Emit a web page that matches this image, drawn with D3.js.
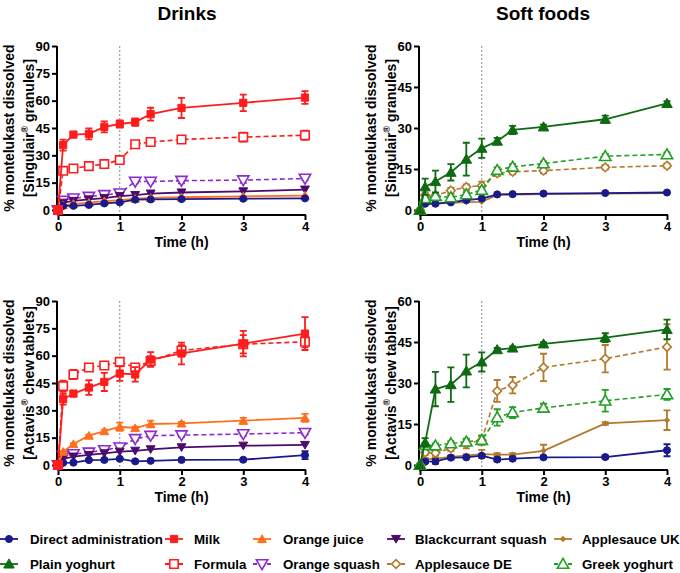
<!DOCTYPE html>
<html><head><meta charset="utf-8">
<script src="https://cdn.jsdelivr.net/npm/d3@7"></script>
<style>
html,body{margin:0;padding:0;background:#fff;}
svg text{font-family:"Liberation Sans",Arial,sans-serif;font-weight:bold;fill:#000;}
</style></head>
<body><svg id="c" width="680" height="573"></svg>
<script>
// ---- data ----
const times = [0, 0.083, 0.25, 0.5, 0.75, 1, 1.25, 1.5, 2, 3, 4];
const xTicks = [0, 1, 2, 3, 4];
const yTicksDrinks = [0, 15, 30, 45, 60, 75, 90];
const yTicksFoods = [0, 15, 30, 45, 60];
const panelTitles = ["Drinks", "Soft foods"];
const formulations = ["Singulair", "Actavis"];
const formulationSuffix = ["granules", "chew tablets"];

// Singulair granules - drinks
const gDirect      = [0, 2.3, 2.3, 2.8, 3.6, 4.2, 5.7, 5.8, 6.0, 6.2, 6.4];
const gMilk        = [0, 35.6, 41.4, 41.8, 45.6, 47.2, 48.2, 52.6, 56.0, 58.8, 61.7];
const gMilkErr     = [0, 3, 1.5, 3, 3, 2, 2, 3.5, 5.5, 4.5, 3.5];
const gFormula     = [0, 21.5, 22.8, 24.1, 25.2, 27.4, 36.1, 37.3, 38.7, 40.0, 41.0];
const gFormulaErr  = [0, 1.5, 1.5, 1, 1, 2, 1, 1, 2, 2.5, 2.5];
const gOrangeJuice = [0, 2.6, 3.4, 4.0, 4.8, 5.4, 6.2, 6.6, 7.0, 7.5, 7.9];
const gBlackcurrant= [0, 4.0, 5.0, 5.8, 6.5, 7.6, 8.2, 9.0, 9.6, 10.2, 11.2];
const gOrangeSquash= [0, 5.2, 6.4, 7.3, 8.3, 9.2, 15.6, 15.6, 16.1, 16.4, 17.3];
const gOrangeSquashErr = [0, 0.5, 0.5, 0.5, 0.5, 1, 1, 1, 1.5, 1.5, 1];
// Singulair granules - soft foods
const gApplesauceUK= [0, 2.0, 2.3, 2.6, 2.9, 3.0, 5.5, 5.6, 5.8, 6.0, 6.2];
const gApplesauceDE= [0, 5.4, 5.2, 7.1, 8.4, 8.9, 13.4, 14.0, 14.4, 15.6, 16.2];
const gApplesauceDEErr = [0, 1, 1, 1, 1, 1.5, 1, 1, 1, 0.8, 0.8];
const gPlainYog    = [0, 8.5, 10.4, 13.8, 18.6, 22.6, 25.2, 29.3, 30.4, 33.2, 39.0];
const gPlainYogErr = [0, 3, 4, 3, 6, 3.5, 1.2, 1.5, 0.8, 1.3, 0.8];
const gGreekYog    = [0, 4.3, 5.1, 4.6, 5.7, 7.3, 14.6, 15.8, 17.0, 19.7, 20.3];
const gGreekYogErr = [0, 0.8, 0.8, 0.8, 0.8, 1, 1, 1, 0.8, 0.8, 0.8];

// Actavis chew tablets - drinks
const aDirect      = [0, 1.2, 1.3, 2.7, 2.8, 3.4, 2.0, 2.3, 2.8, 2.9, 5.4];
const aDirectErr   = [0, 0.5, 0.8, 0.5, 0.5, 0.5, 0.5, 0.5, 0.5, 0.5, 2.2];
const aMilk        = [0, 36.1, 39.2, 42.5, 45.6, 50.2, 49.7, 57.9, 61.2, 66.6, 72.1];
const aMilkErr     = [0, 3, 1.5, 4, 5, 4, 4, 4, 6, 7, 9];
const aFormula     = [0, 43.3, 49.7, 53.5, 54.6, 56.6, 53.5, 57.1, 62.8, 66.3, 67.6];
const aFormulaErr  = [0, 3, 2.5, 1.5, 1.5, 2, 2, 2, 3, 5, 3];
const aOrangeJuice = [0, 7.3, 11.5, 16.1, 18.6, 21.0, 20.3, 22.5, 22.8, 24.3, 25.9];
const aOrangeJuiceErr = [0, 0.5, 0.5, 0.5, 0.8, 2.2, 0.8, 1.8, 0.8, 1.6, 2.2];
const aBlackcurrant= [0, 3.3, 4.6, 5.5, 6.4, 7.3, 7.8, 8.6, 9.7, 10.6, 11.0];
const aOrangeSquash= [0, 5.1, 6.0, 6.9, 8.2, 9.7, 14.3, 16.1, 16.4, 17.0, 17.7];
const aOrangeSquashErr = [0, 0.5, 0.5, 0.5, 0.5, 0.8, 1, 1, 1, 1, 1];
// Actavis chew tablets - soft foods
const aApplesauceUK= [0, 2.1, 2.3, 3.0, 3.4, 4.0, 3.8, 3.8, 5.2, 15.2, 16.4];
const aApplesauceUKErr = [0, 0.5, 0.5, 0.5, 0.5, 1.5, 0.5, 0.5, 2.2, 0.5, 3.6];
const aApplesauceDE= [0, 4.6, 4.4, 6.1, 7.7, 9.1, 27.1, 29.2, 35.7, 38.9, 43.2];
const aApplesauceDEErr = [0, 1, 1, 1, 1.6, 1.6, 4, 3, 5, 5, 8.3];
const aPlainYog    = [0, 8.2, 27.8, 29.4, 34.4, 37.7, 42.2, 42.8, 44.3, 46.6, 49.6];
const aPlainYogErr = [0, 1.6, 6.3, 6.3, 6, 3.5, 0.6, 0.6, 0.6, 1.6, 3.6];
const aGreekYog    = [0, 7.3, 7.1, 7.9, 8.5, 9.1, 17.4, 19.2, 20.9, 23.5, 25.8];
const aGreekYogErr = [0, 0.8, 0.8, 0.8, 1.1, 1.6, 3, 2, 1.5, 4, 2];

const legendNames = ["Direct administration", "Milk", "Orange juice", "Blackcurrant squash", "Applesauce UK",
                     "Plain yoghurt", "Formula", "Orange squash", "Applesauce DE", "Greek yoghurt"];

// ---- styles ----
const styles = {
  "Direct administration": {color:"#1a1a8a", shape:"circle", fill:true, dash:false, size:40},
  "Milk":                  {color:"#ff1c1c", shape:"square", fill:true, dash:false, size:52},
  "Formula":               {color:"#ff1c1c", shape:"square", fill:false, dash:true, size:72},
  "Orange juice":          {color:"#ff6f1f", shape:"triUp", fill:true, dash:false, size:34},
  "Blackcurrant squash":   {color:"#4b0c6c", shape:"triDown", fill:true, dash:false, size:34},
  "Orange squash":         {color:"#8c2bd0", shape:"triDown", fill:false, dash:true, size:56},
  "Applesauce UK":         {color:"#b27a2c", shape:"diamond", fill:true, dash:false, size:18},
  "Applesauce DE":         {color:"#b27a2c", shape:"diamond", fill:false, dash:true, size:48},
  "Plain yoghurt":         {color:"#0f6b12", shape:"triUp", fill:true, dash:false, size:48},
  "Greek yoghurt":         {color:"#22a024", shape:"triUp", fill:false, dash:true, size:56}
};

const panels = [
  {col:0,row:0,yMax:90,yTicks:yTicksDrinks,f:0,series:[
    ["Orange squash",gOrangeSquash,gOrangeSquashErr],["Blackcurrant squash",gBlackcurrant,null],
    ["Orange juice",gOrangeJuice,null],["Direct administration",gDirect,null],
    ["Formula",gFormula,gFormulaErr],["Milk",gMilk,gMilkErr]]},
  {col:1,row:0,yMax:60,yTicks:yTicksFoods,f:0,series:[
    ["Applesauce UK",gApplesauceUK,null],["Direct administration",gDirect,null],
    ["Applesauce DE",gApplesauceDE,gApplesauceDEErr],["Greek yoghurt",gGreekYog,gGreekYogErr],
    ["Plain yoghurt",gPlainYog,gPlainYogErr]]},
  {col:0,row:1,yMax:90,yTicks:yTicksDrinks,f:1,series:[
    ["Orange squash",aOrangeSquash,aOrangeSquashErr],["Blackcurrant squash",aBlackcurrant,null],
    ["Orange juice",aOrangeJuice,aOrangeJuiceErr],["Direct administration",aDirect,aDirectErr],
    ["Formula",aFormula,aFormulaErr],["Milk",aMilk,aMilkErr]]},
  {col:1,row:1,yMax:60,yTicks:yTicksFoods,f:1,series:[
    ["Applesauce UK",aApplesauceUK,aApplesauceUKErr],["Direct administration",aDirect,aDirectErr],
    ["Applesauce DE",aApplesauceDE,aApplesauceDEErr],["Greek yoghurt",aGreekYog,aGreekYogErr],
    ["Plain yoghurt",aPlainYog,aPlainYogErr]]}
];

// ---- layout ----
const colX = [[58,305],[420,667]];
const rowY = [[210,46],[465,301]];
const axisOffset = 5;
const FONT = '"Liberation Sans",Arial,sans-serif';

const svg = d3.select("#c");

function symbolPath(st){
  let type = d3.symbolCircle;
  if(st.shape==="square") type=d3.symbolSquare;
  if(st.shape==="triUp"||st.shape==="triDown") type=d3.symbolTriangle;
  if(st.shape==="diamond") type=d3.symbolDiamond2 || d3.symbolSquare;
  return d3.symbol().type(type).size(st.size)();
}
function drawMarker(g, x, y, st){
  const rot = st.shape==="triDown" ? 180 : (st.shape==="diamond" && !d3.symbolDiamond2 ? 45 : 0);
  const dy = st.shape==="triUp" ? 1 : (st.shape==="triDown" ? -1 : 0);
  g.append("path").attr("d", symbolPath(st))
    .attr("transform", `translate(${x},${y+dy}) rotate(${rot})`)
    .attr("fill", st.fill ? st.color : "#fff")
    .attr("stroke", st.color).attr("stroke-width", st.fill ? 1 : 1.6);
}

panels.forEach(p=>{
  const [x0,x1] = colX[p.col];
  const [y0,y1] = rowY[p.row];
  const x = d3.scaleLinear().domain([0,4]).range([x0,x1]);
  const y = d3.scaleLinear().domain([0,p.yMax]).range([y0,y1]);
  const g = svg.append("g");

  // dotted reference line at 1 h
  g.append("line").attr("x1",x(1)).attr("x2",x(1)).attr("y1",y1).attr("y2",y0+axisOffset)
    .attr("stroke","#8a8a8a").attr("stroke-width",1).attr("stroke-dasharray","2,2");

  // axes
  const yAxis = d3.axisLeft(y).tickValues(p.yTicks).tickFormat(d3.format("d")).tickSize(5).tickPadding(2).tickSizeOuter(0);
  const ya = g.append("g").attr("transform",`translate(${x0-1},0)`).call(yAxis);
  ya.select(".domain").attr("d",`M0,${y1}V${y0+axisOffset}`);
  const xAxis = d3.axisBottom(x).tickValues(xTicks).tickFormat(d3.format("d")).tickSize(5).tickPadding(2).tickSizeOuter(0);
  const xa = g.append("g").attr("transform",`translate(0,${y0+axisOffset})`).call(xAxis);
  xa.select(".domain").attr("d",`M${x0-1},0H${x1+1}`);
  [ya,xa].forEach(a=>{
    a.selectAll(".domain").attr("stroke","#000").attr("stroke-width",2);
    a.selectAll(".tick line").attr("stroke","#000").attr("stroke-width",2);
    a.selectAll("text").attr("font-size",13).attr("font-family",FONT).attr("font-weight","bold").attr("fill","#000");
  });

  // axis titles
  g.append("text").attr("x",(x0+x1)/2).attr("y",y0+37).attr("text-anchor","middle")
    .attr("font-size",14).text("Time (h)");
  const cy = (y0+y1)/2;
  g.append("text").attr("transform",`translate(${x0-44},${cy}) rotate(-90)`).attr("text-anchor","middle")
    .attr("font-size",14).text("% montelukast dissolved");
  const t2 = g.append("text").attr("transform",`translate(${x0-24},${cy}) rotate(-90)`).attr("text-anchor","middle")
    .attr("font-size",14);
  t2.append("tspan").text("[" + formulations[p.f]);
  t2.append("tspan").attr("font-size",9).attr("dy",-6).text("®");
  t2.append("tspan").attr("dy",6).text(" " + formulationSuffix[p.f] + "]");

  // series
  p.series.forEach(([name, vals, errs])=>{
    const st = styles[name];
    const sg = g.append("g");
    const line = d3.line().x((d,i)=>x(times[i])).y(d=>y(d));
    sg.append("path").datum(vals).attr("d",line).attr("fill","none")
      .attr("stroke",st.color).attr("stroke-width",st.dash?1.6:1.8)
      .attr("stroke-dasharray",st.dash?"5,3":null);
    if(errs){
      vals.forEach((v,i)=>{
        const e = errs[i]; if(!e) return;
        const xx = x(times[i]);
        sg.append("path").attr("d",`M${xx},${y(v-e)}V${y(v+e)}M${xx-3.5},${y(v+e)}H${xx+3.5}M${xx-3.5},${y(v-e)}H${xx+3.5}`)
          .attr("stroke",st.color).attr("stroke-width",1.8).attr("fill","none");
      });
    }
    vals.forEach((v,i)=>drawMarker(sg, x(times[i]), y(v), st));
  });
});

// titles
panelTitles.forEach((t,i)=>{
  svg.append("text").attr("x",[187,543][i]).attr("y",20).attr("text-anchor","middle")
    .attr("font-size",19).text(t);
});

// legend
const legCols = [{s:9,t:30},{s:174,t:194},{s:262,t:283},{s:396,t:415},{s:563,t:582}];
const legRows = [539,564];
legendNames.forEach((name,i)=>{
  const r = Math.floor(i/5), c = i%5;
  const st = styles[name];
  const cx = legCols[c].s, cy = legRows[r];
  const lg = svg.append("g");
  lg.append("line").attr("x1",cx-9).attr("x2",cx+9).attr("y1",cy).attr("y2",cy)
    .attr("stroke",st.color).attr("stroke-width",1.8).attr("stroke-dasharray",st.dash?"4,10":null);
  drawMarker(lg, cx, cy, st);
  lg.append("text").attr("x",legCols[c].t).attr("y",cy+5).attr("font-size",13.3).text(name);
});
</script></body></html>
